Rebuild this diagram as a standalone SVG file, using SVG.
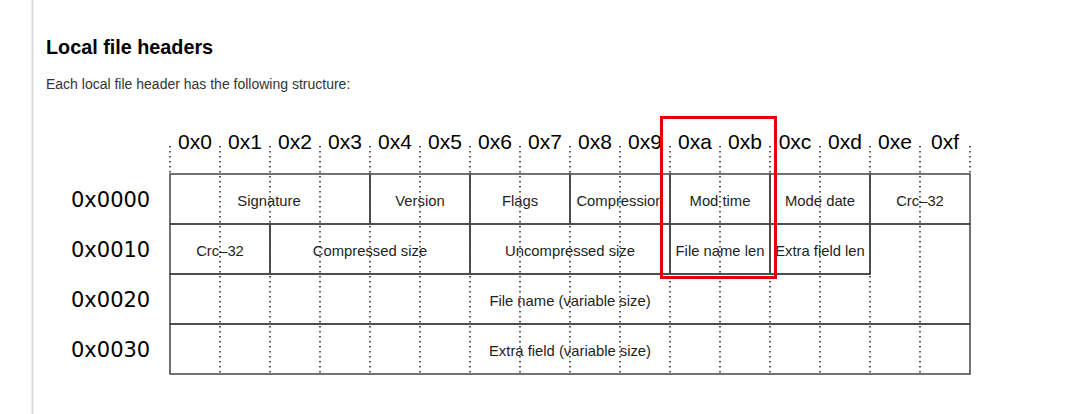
<svg xmlns="http://www.w3.org/2000/svg" width="1083" height="414" viewBox="0 0 1083 414">
<style>
.cell{fill:none;stroke:#444;stroke-width:1.5}
.ct{font-family:"Liberation Sans",Arial,sans-serif;font-size:14.8px;fill:#1e1e1e;text-anchor:middle}
.hx{font-family:"Liberation Sans",Arial,sans-serif;font-size:21px;fill:#000;text-anchor:middle}
.rx{font-family:"DejaVu Sans",sans-serif;font-size:21px;fill:#000}
.dot{stroke:#000;stroke-width:1.3;stroke-dasharray:1.5 3.5;fill:none}
</style>
<rect x="0" y="0" width="1083" height="414" fill="#fff"/>
<line x1="32.5" y1="0" x2="32.5" y2="414" stroke="#dcdcdc" stroke-width="2"/>
<text x="46" y="54" font-family="Liberation Sans,Arial,sans-serif" font-size="19.8" font-weight="bold" fill="#000">Local file headers</text>
<text x="46" y="88.5" font-family="Liberation Sans,Arial,sans-serif" font-size="14" fill="#333">Each local file header has the following structure:</text>

<g id="column-labels">
<text class="hx" x="195" y="148.5">0x0</text>
<text class="hx" x="245" y="148.5">0x1</text>
<text class="hx" x="295" y="148.5">0x2</text>
<text class="hx" x="345" y="148.5">0x3</text>
<text class="hx" x="395" y="148.5">0x4</text>
<text class="hx" x="445" y="148.5">0x5</text>
<text class="hx" x="495" y="148.5">0x6</text>
<text class="hx" x="545" y="148.5">0x7</text>
<text class="hx" x="595" y="148.5">0x8</text>
<text class="hx" x="645" y="148.5">0x9</text>
<text class="hx" x="695" y="148.5">0xa</text>
<text class="hx" x="745" y="148.5">0xb</text>
<text class="hx" x="795" y="148.5">0xc</text>
<text class="hx" x="845" y="148.5">0xd</text>
<text class="hx" x="895" y="148.5">0xe</text>
<text class="hx" x="945" y="148.5">0xf</text>
</g>
<g id="row-labels">
<text class="rx" x="71" y="207">0x0000</text>
<text class="rx" x="71" y="257">0x0010</text>
<text class="rx" x="71" y="307">0x0020</text>
<text class="rx" x="71" y="357">0x0030</text>
</g>

<g id="connectors">
<path class="dot" d="M170,146V174M970,146V174M220,146V374M270,146V374M320,146V374M370,146V374M420,146V374M470,146V374M520,146V374M570,146V374M620,146V374M670,146V374M720,146V374M770,146V374M820,146V374M870,146V374M920,146V374"/>
</g>

<g id="signature"><rect class="cell" x="170" y="174" width="200" height="50"/><text class="ct" x="269" y="206">Signature</text></g>
<g id="version"><rect class="cell" x="370" y="174" width="100" height="50"/><text class="ct" x="420" y="206">Version</text></g>
<g id="flags"><rect class="cell" x="470" y="174" width="100" height="50"/><text class="ct" x="520" y="206">Flags</text></g>
<g id="compression"><rect class="cell" x="570" y="174" width="100" height="50"/><text class="ct" x="620" y="206">Compression</text></g>
<g id="mod-time"><rect class="cell" x="670" y="174" width="100" height="50"/><text class="ct" x="720" y="206">Mod time</text></g>
<g id="mode-date"><rect class="cell" x="770" y="174" width="100" height="50"/><text class="ct" x="820" y="206">Mode date</text></g>
<g id="crc32-a"><rect class="cell" x="870" y="174" width="100" height="50"/><text class="ct" x="920" y="206">Crc–32</text></g>
<g id="crc32-b"><rect class="cell" x="170" y="224" width="100" height="50"/><text class="ct" x="220" y="256">Crc–32</text></g>
<g id="compressed-size"><rect class="cell" x="270" y="224" width="200" height="50"/><text class="ct" x="370" y="256">Compressed size</text></g>
<g id="uncompressed-size"><rect class="cell" x="470" y="224" width="200" height="50"/><text class="ct" x="570" y="256">Uncompressed size</text></g>
<g id="file-name-len"><rect class="cell" x="670" y="224" width="100" height="50"/><text class="ct" x="720" y="256">File name len</text></g>
<g id="extra-field-len"><rect class="cell" x="770" y="224" width="100" height="50"/><text class="ct" x="820" y="256">Extra field len</text></g>
<g id="file-name"><path class="cell" d="M170,274H870V224H970V324H170Z"/><text class="ct" x="570" y="306">File name (variable size)</text></g>
<g id="extra-field"><rect class="cell" x="170" y="324" width="800" height="50"/><text class="ct" x="570" y="356">Extra field (variable size)</text></g>

<g id="highlight"><rect x="661.5" y="117.5" width="114" height="160" fill="none" stroke="#e60000" stroke-width="3"/></g>
</svg>
